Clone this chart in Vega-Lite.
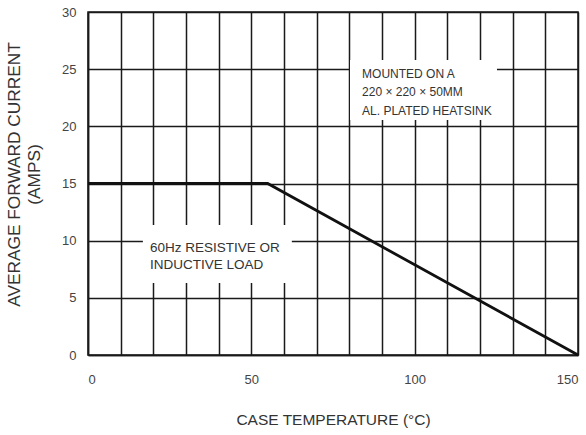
{
  "$schema": "https://vega.github.io/schema/vega-lite/v6.json",
  "width": 490,
  "height": 343,
  "autosize": {"type": "none"},
  "padding": {"left": 88, "top": 12, "right": 8, "bottom": 80},
  "background": "white",
  "config": {
    "view": {"stroke": "#1a1a1a", "strokeWidth": 1.5},
    "font": "Liberation Sans",
    "axis": {
      "grid": true,
      "gridColor": "#1a1a1a",
      "gridWidth": 1.5,
      "gridOpacity": 1,
      "domainColor": "#1a1a1a",
      "domainWidth": 1.5,
      "ticks": false,
      "labelFont": "Liberation Sans",
      "labelFontSize": 13,
      "labelColor": "#444444",
      "titleFont": "Liberation Sans",
      "titleFontWeight": "normal",
      "titleColor": "#333333"
    }
  },
  "datasets": {
    "curve": [
      {"T": 0, "I": 15},
      {"T": 55, "I": 15},
      {"T": 150, "I": 0}
    ],
    "boxes": [
      {"T": 80.2, "T2": 125.2, "I": 20.55, "I2": 25.8},
      {"T": 16.8, "T2": 62.4, "I": 6.3, "I2": 11.37}
    ],
    "notes1": [
      {"T": 83.9, "I": 24.23, "label": "MOUNTED ON A\n220 × 220 × 50MM\nAL.  PLATED HEATSINK"}
    ],
    "notes2": [
      {"T": 19.0, "I": 9.0, "label": "60Hz RESISTIVE OR\nINDUCTIVE LOAD"}
    ]
  },
  "encoding": {
    "x": {
      "field": "T", "type": "quantitative",
      "scale": {"domain": [0, 150], "nice": false},
      "axis": {
        "values": [0, 10, 20, 30, 40, 50, 60, 70, 80, 90, 100, 110, 120, 130, 140, 150],
        "labelExpr": "datum.value % 50 === 0 ? datum.label : ''",
        "labelOverlap": false,
        "labelPadding": 18,
        "title": "CASE TEMPERATURE (°C)",
        "titleFontSize": 15.5,
        "titlePadding": 26
      }
    },
    "y": {
      "field": "I", "type": "quantitative",
      "scale": {"domain": [0, 30], "nice": false},
      "axis": {
        "values": [0, 5, 10, 15, 20, 25, 30],
        "labelOverlap": false,
        "labelPadding": 12,
        "title": ["AVERAGE FORWARD CURRENT", "(AMPS)"],
        "titleFontSize": 17.3,
        "titleLineHeight": 20,
        "titlePadding": 18,
        "titleY": 162
      }
    }
  },
  "layer": [
    {
      "data": {"name": "boxes"},
      "mark": {"type": "rect", "color": "white"},
      "encoding": {
        "x2": {"field": "T2"},
        "y2": {"field": "I2"}
      }
    },
    {
      "data": {"name": "notes1"},
      "mark": {"type": "text", "align": "left", "baseline": "alphabetic", "fontSize": 12, "lineHeight": 18.5, "lineBreak": "\n", "color": "#333333", "font": "Liberation Sans"},
      "encoding": {
        "text": {"field": "label", "type": "nominal"}
      }
    },
    {
      "data": {"name": "notes2"},
      "mark": {"type": "text", "align": "left", "baseline": "alphabetic", "fontSize": 13.5, "lineHeight": 16.5, "lineBreak": "\n", "color": "#333333", "font": "Liberation Sans"},
      "encoding": {
        "text": {"field": "label", "type": "nominal"}
      }
    },
    {
      "data": {"name": "curve"},
      "mark": {"type": "line", "color": "#111111", "strokeWidth": 2.8}
    }
  ]
}
